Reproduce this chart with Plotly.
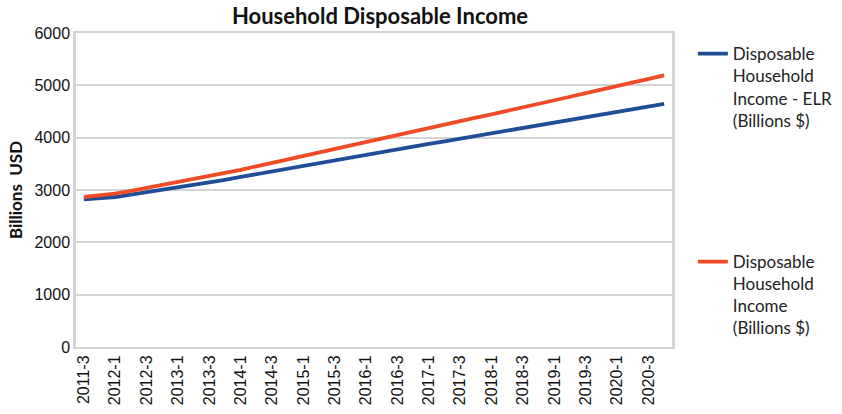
import plotly.graph_objects as go

# Quarterly periods, 2011 Q3 through 2020 Q4
quarters = [f"{y}-{q}" for y in range(2011, 2021) for q in range(1, 5)][2:]

# Disposable Household Income - ELR (Billions $)
income_elr = [2822, 2840, 2866, 2910, 2955, 3000, 3047, 3095, 3145, 3195,
              3249, 3303, 3357, 3411, 3465, 3519, 3573, 3627, 3680,
              3730, 3780, 3830, 3880, 3930, 3980, 4030, 4080, 4130,
              4181, 4232, 4284, 4335, 4387, 4438, 4490, 4541, 4593, 4644]

# Disposable Household Income (Billions $)
income = [2866, 2890, 2930, 2985, 3040, 3095, 3150, 3205, 3262, 3320,
          3386, 3453, 3520, 3588, 3656, 3724, 3792, 3860, 3930,
          3995, 4060, 4124, 4188, 4252, 4317, 4381, 4446, 4510,
          4578, 4646, 4714, 4782, 4850, 4918, 4986, 5054, 5122, 5190]

tick_labels = quarters[::2]

BLUE = "#1F4E96"
ORANGE = "#EE4B26"
GRID = "#D4D4D4"
TEXT_FONT = "Lato"
TICK_FONT = "Liberation Sans"

fig = go.Figure()
fig.add_trace(go.Scatter(
    x=quarters, y=income_elr, mode="lines",
    name="Disposable<br>Household<br>Income - ELR<br>(Billions $)",
    line=dict(color=BLUE, width=3.8),
    legend="legend", showlegend=True,
))
fig.add_trace(go.Scatter(
    x=quarters, y=income, mode="lines",
    name="Disposable<br>Household<br>Income<br>(Billions $)",
    line=dict(color=ORANGE, width=3.8),
    legend="legend2", showlegend=True,
))

legend_style = dict(
    xanchor="left", yanchor="top", valign="top",
    font=dict(family=TEXT_FONT, size=17, color="#222222"),
    bgcolor="rgba(0,0,0,0)", itemwidth=30, tracegroupgap=0,
)

fig.update_layout(
    width=842, height=414,
    showlegend=True,
    margin=dict(l=76, r=170, t=33, b=67, autoexpand=False),
    paper_bgcolor="white", plot_bgcolor="white",
    title=dict(
        text="<b>Household Disposable Income</b>",
        x=380 / 842, xanchor="center",
        y=1 - 16 / 414, yanchor="middle",
        font=dict(family=TEXT_FONT, size=22, color="#111111"),
    ),
    xaxis=dict(
        type="category", tickmode="array", tickvals=tick_labels, ticktext=tick_labels,
        tickangle=-90, tickfont=dict(family=TICK_FONT, size=16, color="#111111"),
        showgrid=False, showline=True, linecolor=GRID, linewidth=2, mirror=True,
        ticks="", range=[-0.5, len(quarters) - 0.5],
    ),
    yaxis=dict(
        range=[0, 6000], dtick=1000, tickformat="d",
        tickfont=dict(family=TICK_FONT, size=16, color="#111111"),
        showgrid=True, gridcolor=GRID, gridwidth=1.5,
        showline=True, linecolor=GRID, linewidth=2.5, mirror=True,
        zeroline=False, ticks="",
        title=dict(text="<b>Billions&nbsp; USD</b>",
                   font=dict(family=TEXT_FONT, size=17, color="#111111"),
                   standoff=8),
    ),
    legend=dict(x=1.035, y=0.99, **legend_style),
    legend2=dict(x=1.035, y=0.328, **legend_style),
)

fig.write_html("out.html")
